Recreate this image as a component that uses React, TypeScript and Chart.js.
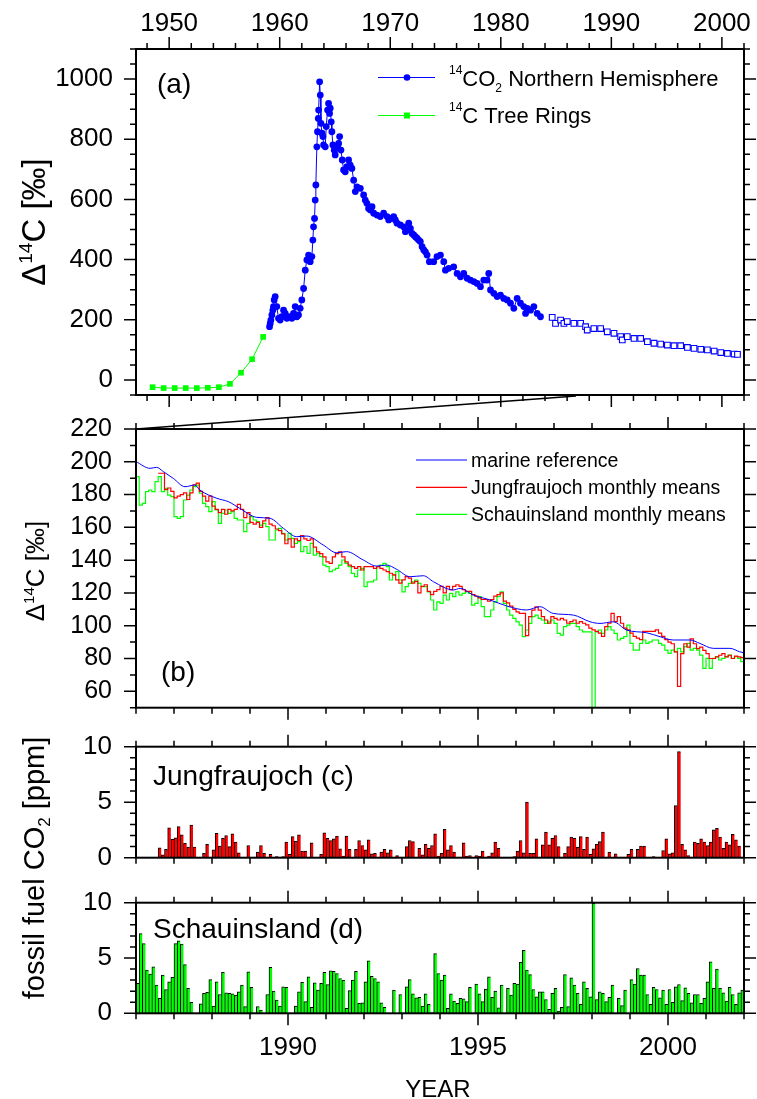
import React, { useEffect, useRef } from 'react';
import { Chart, registerables } from 'chart.js';

Chart.register(...registerables);

const FONT = "'Liberation Sans', Arial, Helvetica, sans-serif";
const BLUE = '#0000ff';
const RED = '#ff0000';
const GREEN = '#00ff00';

// ---------------- Panel (a) ----------------
const A_X_MIN = 1947;
const A_X_MAX = 2002;
const A_Y_MIN = -50;
const A_Y_MAX = 1100;
const A_X_LABELS = [1950, 1960, 1970, 1980, 1990, 2000];
const A_Y_LABELS = [0, 200, 400, 600, 800, 1000];

const TREE_YEARS = [1948.5, 1949.5, 1950.5, 1951.5, 1952.5, 1953.5, 1954.5, 1955.5, 1956.5, 1957.5, 1958.5];
const TREE_D14C = [-24, -27, -27, -27, -27, -26, -24, -13, 24, 69, 143];

const NH_YEARS = [
  1959.08, 1959.14, 1959.2, 1959.29, 1959.38, 1959.44, 1959.5, 1959.59, 1959.74, 1959.89,
  1960.04, 1960.19, 1960.35, 1960.5, 1960.65, 1960.89, 1961.1, 1961.25, 1961.4, 1961.55,
  1961.7, 1961.85, 1962.0, 1962.16, 1962.31, 1962.46, 1962.61, 1962.76, 1962.91, 1963.0,
  1963.06, 1963.15, 1963.21, 1963.27, 1963.36, 1963.42, 1963.49, 1963.52, 1963.61, 1963.67,
  1963.73, 1963.82, 1963.91, 1963.97, 1964.12, 1964.21, 1964.33, 1964.42, 1964.51, 1964.57,
  1964.66, 1964.72, 1964.81, 1964.93, 1965.02, 1965.18, 1965.33, 1965.42, 1965.54, 1965.66,
  1965.78, 1965.93, 1966.08, 1966.23, 1966.38, 1966.53, 1966.69, 1966.84, 1966.99, 1967.29,
  1967.59, 1967.74, 1967.89, 1968.04, 1968.2, 1968.35, 1968.5, 1968.8, 1969.1, 1969.4,
  1969.71, 1969.86, 1970.01, 1970.31, 1970.46, 1970.61, 1970.91, 1971.21, 1971.37, 1971.52,
  1971.67, 1971.82, 1971.97, 1972.12, 1972.27, 1972.42, 1972.57, 1972.72, 1972.88, 1973.03,
  1973.18, 1973.33, 1973.54, 1973.93, 1974.23, 1974.54, 1974.84, 1974.99, 1975.29, 1975.74,
  1976.05, 1976.35, 1976.65, 1976.95, 1977.25, 1977.56, 1977.86, 1978.16, 1978.46, 1978.76,
  1978.91, 1979.07, 1979.37, 1979.67, 1979.97, 1980.27, 1980.58, 1980.88, 1981.18, 1981.48,
  1981.78, 1982.08, 1982.24, 1982.39, 1982.69, 1982.99, 1983.29, 1983.59,
];
const NH_D14C = [
  177, 188, 199, 216, 232, 244, 266, 277, 244, 205,
  199, 210, 232, 221, 205, 210, 205, 221, 244, 210,
  216, 238, 266, 304, 365, 399, 415, 393, 410, 465,
  509, 537, 598, 648, 775, 825, 869, 897, 991, 947,
  853, 820, 809, 781, 775, 842, 897, 919, 886, 903,
  858, 825, 781, 764, 748, 770, 786, 809, 764, 731,
  698, 692, 709, 731, 714, 703, 664, 626, 642, 637,
  615, 598, 587, 570, 565, 576, 554, 548, 543, 554,
  543, 532, 537, 543, 532, 521, 515, 509, 493, 498,
  521, 504, 487, 482, 476, 471, 465, 460, 443, 432,
  426, 415, 393, 393, 410, 415, 393, 365, 371, 376,
  354, 343, 354, 338, 332, 327, 321, 310, 332, 332,
  354, 299, 288, 277, 282, 271, 266, 255, 238, 271,
  255, 244, 221, 238, 232, 244, 221, 210,
];

const NH_OPEN_YEARS = [
  1984.65, 1984.95, 1985.41, 1985.71, 1986.01, 1986.61, 1987.22, 1987.67, 1987.82, 1988.42,
  1989.03, 1989.63, 1990.24, 1990.84, 1990.99, 1991.44, 1992.05, 1992.65, 1993.26, 1993.86,
  1994.46, 1995.07, 1995.67, 1996.27, 1996.88, 1997.48, 1998.09, 1998.69, 1999.3, 1999.9,
  2000.5, 2001.11, 2001.41,
];
const NH_OPEN_D14C = [
  208, 188, 199, 188, 194, 188, 188, 177, 166, 171,
  171, 160, 155, 144, 133, 144, 138, 138, 127, 122,
  119, 116, 114, 114, 108, 105, 102, 100, 96, 91,
  88, 86, 85,
];

const ZOOM_YEAR = 1986.8;

// ---------------- Panels (b)-(d) ----------------
const B_X_MIN = 1986;
const B_X_MAX = 2002;
const B_Y_MIN = 50;
const B_Y_MAX = 220;
const B_Y_LABELS = [60, 80, 100, 120, 140, 160, 180, 200, 220];
const YEAR_LABELS = [1990, 1995, 2000];
const FF_Y_LABELS = [0, 5, 10];

const MARINE_YEARS = [
  1986.0, 1986.37, 1986.54, 1986.72, 1986.98, 1987.29, 1987.55, 1987.68, 1988.13, 1988.43,
  1988.73, 1989.18, 1989.53, 1989.88, 1990.23, 1990.49, 1990.93, 1991.28, 1991.54, 1991.98,
  1992.33, 1992.6, 1992.86, 1993.21, 1993.56, 1993.83, 1994.35, 1994.53, 1994.88, 1995.32,
  1995.76, 1996.28, 1996.63, 1996.98, 1997.51, 1997.95, 1998.21, 1998.56, 1998.91, 1999.44,
  1999.79, 2000.14, 2000.58, 2000.84, 2001.19, 2001.63, 2001.89, 2002.0,
];
const MARINE_D14C = [
  200.1, 196.0, 196.6, 194.0, 189.9, 184.8, 185.8, 182.8, 177.7, 175.7,
  171.6, 166.1, 165.5, 159.4, 154.3, 154.7, 149.2, 144.5, 145.2, 140.1,
  136.4, 137.0, 134.4, 129.9, 130.5, 126.8, 121.8, 122.8, 118.7, 115.7,
  112.0, 109.6, 111.6, 107.5, 106.5, 102.4, 101.4, 102.4, 97.4, 95.7,
  93.3, 91.3, 91.3, 89.2, 86.2, 86.2, 84.1, 83.5,
];

// monthly means, Jan 1986 .. Dec 2001
const JFJ_D14C = [
  null, null, null, null, null, null, null, 193, 193, 183, 184, 182,
  178, 179, 180, 181, 177, 181, 186, 187, 182, 179, 176, 179,
  173, 171, 169, 171, 168, 171, 170, 171, 174, 171, 166, 169,
  163, 162, 163, 160, 164, 166, 162, 161, 159, 158, 156, 150,
  153, 148, 153, 152, 155, 153, 152, 153, 148, 145, 144, 142,
  139, 138, 142, 144, 145, 142, 139, 137, 136, 135, 136, 134,
  136, 136, 136, 135, 136, 135, 134, 133, 132, 131, 128, 126,
  128, 130, 129, 126, 127, 120, 124, 125, 121, 119, 121, 122,
  124, 120, 124, 122, 124, 125, 124, 122, 121, 121, 119, 118,
  117, 116, 116, 115, 116, 118, 119, 120, 115, 114, 112, 110,
  108.5, 107.5, 107.5, 94, 105.5, 109.5, 111.5, 109.5, 105.5, 103.5, 101.5, 105.5,
  104.5, 103.5, 104.5, 103.5, 101.5, 102.5, 103.5, 101.5, 102.5, 101.5, 100.5, 98.5,
  97.5, 96.5, 95.5, 93.5, 99.5, 101.5, 107.5, 102.5, 105.5, 101.5, 98.5, 97.5,
  95.5, 93.5, 92.5, 91.5, 96.5, 96.5, 96.5, 96.5, 97.5, 95.5, 93.5, 91.5,
  90, 89, 84, 63, 83, 89, 87, 92, 89, 86, 87, 85,
  83, 80, 80, 81, 82, 83, 81, 82, 80, 81.5, 81, 80.5,
];

const SCH_D14C = [
  190.9, 173.6, 174.6, 181.8, 182.8, 181.8, 187.9, 190.9, 181.8, 183.8, 179.7, 178.7,
  166.5, 165.5, 166.5, 176.7, 179.7, 182.8, 184.8, 185.8, 180.8, 174.6, 172.6, 169.6,
  175.7, 170.6, 162.4, 168.5, 170.6, 168.5, 169.6, 165.5, 164.5, 164.5, 157.4, 162.4,
  166.5, 164.5, 163.5, 161.4, 162.4, 160.4, 152.3, 152.3, 158.4, 159.4, 156.3, 152.3,
  156.3, 153.3, 150.2, 151.3, 145.2, 148.2, 144.1, 150.2, 143.1, 144.1, 142.1, 137,
  136, 133, 134, 135, 137, 140.1, 138, 136, 131.9, 129.9, 134, 135,
  123.8, 126.8, 126.8, 127.9, 136, 137, 138, 136, 127.9, 130.9, 133, 127.9,
  120.7, 123.8, 125.8, 126.8, 127.9, 125.8, 123.8, 123.8, 120.7, 115.7, 109.6, 114.6,
  113.6, 118.7, 115.7, 119.7, 117.7, 120.7, 118.7, 119.7, 120.7, 119.7, 112.6, 113.6,
  117.7, 111.6, 105.5, 105.5, 109.6, 114.6, 117.7, 120.7, 113.6, 109.6, 106.5, 104.5,
  102.4, 100.4, 93.3, 97.4, 101.4, 105.5, 106.5, 104.5, 103.5, 101.4, 102.4, 103.5,
  101.4, 95.3, 94.3, 99.4, 100.4, 101.4, 101.4, 99.4, 97.4, 96.3, 96.3, 96.3,
  50, 96.3, 97.4, 95.3, 97.4, 99.4, 97.4, 95.3, 91.3, 92.3, 93.3, 100.4,
  89.2, 85.1, 85.1, 89.2, 91.3, 89.2, 90.2, 91.3, 91.3, 89.2, 88.2, 85.1,
  83.1, 85.1, 84.1, 86.2, 84.1, 87.2, 89.2, 85.1, 86.2, 85.1, 82.1, 74,
  80.1, 74, 80.1, 81.1, 79.1, 80.1, 81.1, 82.1, 80.1, 81.1, 80.1, 78.1,
];

// fossil fuel CO2 [ppm], monthly, Jan 1986 .. Dec 2001
const JFJ_FF = [
  null, null, null, null, null, null, null, 0.9, 0.25, 0.75, 2.7, 1.65,
  1.8, 2.8, 2.05, 1.3, 0.95, 2.95, 0.95, null, null, 0.4, 1.2, null,
  0.7, 2.2, 1.05, 1.75, 2.0, 1.0, 2.15, 1.4, 0.45, null, null, 1.1,
  null, null, 0.5, 1.1, 0.4, null, 0.3, null, 0.1, null, 0.1, 1.4,
  0.3, 1.9, 1.5, 2.05, 0.6, 0.6, null, 1.35, null, null, 0.3, 2.25,
  1.75, 1.55, 1.7, 1.95, 0.8, 0.15, 1.95, 0.75, null, 0.75, 1.55, 1.1,
  0.7, 1.6, 0.35, 0.4, null, 0.5, 0.75, 0.45, 0.7, null, 0.2, null,
  null, 1.0, 1.55, 1.45, null, 0.85, 0.25, 1.2, 0.85, 1.1, 2.15, 0.15,
  0.4, 2.55, 0.7, 1.1, 0.5, null, null, 1.35, 0.15, 0.2, null, 0.2,
  0.15, 0.6, null, 0.15, 0.45, 1.4, 0.85, null, null, null, null, 0.1,
  0.6, 1.55, 0.45, 5.0, 0.4, 0.4, 1.7, null, 1.15, 2.3, 1.15, 1.75,
  2.0, 1.0, null, 0.4, 1.0, 1.85, 1.75, 0.95, 1.9, 0.75, 1.85, 0.3,
  0.8, 1.2, 1.45, 2.3, null, 0.5, null, 0.35, null, null, null, 0.3,
  0.75, null, 0.75, 1.05, 1.05, null, null, 0.1, null, null, 0.65, 1.7,
  0.35, 0.45, 4.7, 9.55, 1.2, 0.7, 0.2, null, 1.4, 1.3, 1.7, 1.4,
  1.1, 1.4, 2.5, 2.65, 1.85, 0.85, 1.4, 1.15, 2.1, 1.6, 1.05, null,
];

const SCH_FF = [
  2.7, 7.2, 6.3, 3.9, 3.55, 4.2, 2.55, 1.35, 3.45, 2.15, 2.85, 3.25,
  6.3, 6.55, 6.25, 4.4, 2.25, 1.0, null, null, 0.85, 1.8, 1.9, 3.05,
  0.65, 2.85, 1.7, 3.7, 1.85, 1.8, 1.75, 1.65, 1.95, 2.55, 0.6, 3.75,
  2.35, null, 0.6, 0.3, null, 1.7, 4.15, 2.0, 1.2, 0.65, 2.4, 2.35,
  null, null, 0.65, 1.95, 2.8, 1.05, 3.3, 0.55, 2.75, 2.1, 2.7, 3.7,
  2.6, 3.85, 3.8, 3.6, 3.15, 3.0, 0.45, 2.05, 3.0, 3.8, 0.9, 0.95,
  2.85, 4.75, 3.35, 3.15, 2.85, 0.95, 0.55, null, null, 2.1, null, 1.7,
  null, 2.4, 3.05, 1.75, 1.4, 1.45, 0.65, 1.75, 0.8, 0.05, 5.4, 3.6,
  3.0, 3.45, 0.45, 1.75, 1.1, 0.9, 1.35, 1.3, 1.05, 2.35, null, 2.65,
  1.75, 1.05, 2.2, 3.3, 1.45, 2.0, 0.5, 2.55, null, 2.25, 1.65, 2.7,
  2.65, 4.6, 5.7, 3.9, 3.5, 2.15, 1.5, 1.95, 1.95, 1.25, 0.35, 1.8,
  2.25, 0.2, 0.55, 3.5, 0.6, 3.2, 2.55, 1.8, 0.8, 2.85, 2.25, 1.5,
  9.95, 1.25, 1.95, 1.8, 1.05, 1.45, 2.55, null, 1.35, 0.7, 2.1, null,
  3.05, 2.65, 4.05, 3.45, 3.45, 1.7, 0.8, 2.35, 2.15, 1.4, 2.1, 0.8,
  2.15, 1.0, 2.4, 2.6, 1.15, 2.3, 1.8, 0.95, 1.7, 1.7, 0.9, 1.35,
  2.85, 4.65, 2.25, 4.0, 2.25, 1.85, 1.1, 2.35, 1.7, 0.8, 1.85, 2.1,
];

// ---------------- helpers ----------------
type Part = { t: string; s: number; dy?: number };

function richWidth(ctx: CanvasRenderingContext2D, parts: Part[]) {
  let w = 0;
  for (const p of parts) {
    ctx.font = `${p.s}px ${FONT}`;
    w += ctx.measureText(p.t).width;
  }
  return w;
}

function drawRich(ctx: CanvasRenderingContext2D, parts: Part[], x: number, y: number, align: 'left' | 'center' = 'left', rotate = false) {
  ctx.save();
  ctx.translate(x, y);
  if (rotate) ctx.rotate(-Math.PI / 2);
  ctx.fillStyle = '#000';
  ctx.textBaseline = 'alphabetic';
  ctx.textAlign = 'left';
  let cx = align === 'center' ? -richWidth(ctx, parts) / 2 : 0;
  for (const p of parts) {
    ctx.font = `${p.s}px ${FONT}`;
    ctx.fillText(p.t, cx, p.dy || 0);
    cx += ctx.measureText(p.t).width;
  }
  ctx.restore();
}

function stepRange(min: number, max: number, step: number) {
  const out: number[] = [];
  const start = Math.ceil(min / step - 1e-9) * step;
  for (let v = start; v <= max + 1e-9; v += step) out.push(Math.round(v * 1e6) / 1e6);
  return out;
}

function drawFrameTicks(chart: any, xMaj: number[], xStep: number, yMaj: number[], yStep: number) {
  const { ctx, chartArea: a } = chart;
  const xs = chart.scales.x;
  const ys = chart.scales.y;
  const MAJ = 12;
  const MIN = 6;
  ctx.save();
  ctx.strokeStyle = '#000';
  ctx.lineWidth = 1.5;
  ctx.beginPath();
  const vx = (v: number, len: number) => {
    const p = xs.getPixelForValue(v);
    ctx.moveTo(p, a.top);
    ctx.lineTo(p, a.top - len);
    ctx.moveTo(p, a.bottom);
    ctx.lineTo(p, a.bottom + len);
  };
  const vy = (v: number, len: number) => {
    const p = ys.getPixelForValue(v);
    ctx.moveTo(a.left, p);
    ctx.lineTo(a.left - len, p);
    ctx.moveTo(a.right, p);
    ctx.lineTo(a.right + len, p);
  };
  stepRange(xs.min, xs.max, xStep).forEach((v) => vx(v, MIN));
  xMaj.forEach((v) => vx(v, MAJ));
  stepRange(ys.min, ys.max, yStep).forEach((v) => vy(v, MIN));
  yMaj.forEach((v) => vy(v, MAJ));
  ctx.stroke();
  ctx.lineWidth = 2;
  ctx.strokeRect(a.left, a.top, a.right - a.left, a.bottom - a.top);
  ctx.restore();
}

function fixSize(pos: string, size: number) {
  return (s: any) => {
    if (pos === 'top' || pos === 'bottom') s.height = size;
    else s.width = size;
    s.paddingTop = 0;
    s.paddingBottom = 0;
    s.paddingLeft = 0;
    s.paddingRight = 0;
  };
}

function hiddenAxis(pos: string, min: number, max: number, size: number) {
  return {
    type: 'linear',
    position: pos,
    min,
    max,
    offset: false,
    grid: { display: false, drawTicks: false },
    border: { display: false },
    ticks: { display: false, padding: 0 },
    afterFit: fixSize(pos, size),
  };
}

function labelAxis(pos: string, min: number, max: number, size: number, labels: number[], fontSize: number, padding: number) {
  return {
    type: 'linear',
    position: pos,
    min,
    max,
    offset: false,
    grid: { display: false, drawTicks: false },
    border: { display: false },
    ticks: {
      display: true,
      font: { size: fontSize, family: FONT },
      color: '#000',
      padding,
      autoSkip: false,
      maxRotation: 0,
      minRotation: 0,
      callback: (v: any) => String(v),
    },
    afterBuildTicks: (s: any) => {
      s.ticks = labels.map((v) => ({ value: v }));
    },
    afterFit: fixSize(pos, size),
  };
}

function monthSteps(vals: (number | null)[]) {
  const pts: { x: number; y: number }[] = [];
  let last = -1;
  vals.forEach((v, m) => {
    if (v !== null) {
      pts.push({ x: B_X_MIN + m / 12, y: v });
      last = m;
    }
  });
  if (last >= 0) pts.push({ x: B_X_MIN + (last + 1) / 12, y: vals[last] as number });
  return pts;
}

function monthBars(vals: (number | null)[]) {
  return vals.map((v, m) => ({ x: B_X_MIN + (m + 0.5) / 12, y: v }));
}

const baseOptions = (padTop: number) => ({
  responsive: false,
  animation: false,
  events: [],
  layout: { padding: { top: padTop, left: 0, right: 0, bottom: 0 }, autoPadding: false },
  plugins: { legend: { display: false }, tooltip: { enabled: false }, title: { display: false } },
});

// ---------------- chart configs ----------------
function configA(): any {
  return {
    type: 'line',
    data: {
      datasets: [
        {
          data: NH_YEARS.map((x, i) => ({ x, y: NH_D14C[i] })),
          borderColor: BLUE,
          backgroundColor: BLUE,
          borderWidth: 1,
          pointRadius: 3.4,
          pointBorderWidth: 0,
          pointBackgroundColor: BLUE,
          pointHoverRadius: 0,
        },
        {
          data: NH_OPEN_YEARS.map((x, i) => ({ x, y: NH_OPEN_D14C[i] })),
          borderColor: BLUE,
          borderWidth: 0.8,
          pointStyle: 'rect',
          pointRadius: 4,
          pointBorderWidth: 1.1,
          pointBorderColor: BLUE,
          pointBackgroundColor: '#ffffff',
          pointHoverRadius: 0,
        },
        {
          data: TREE_YEARS.map((x, i) => ({ x, y: TREE_D14C[i] })),
          borderColor: GREEN,
          backgroundColor: GREEN,
          borderWidth: 1,
          pointStyle: 'rect',
          pointRadius: 4,
          pointBorderWidth: 0,
          pointBackgroundColor: GREEN,
          pointHoverRadius: 0,
        },
      ],
    },
    options: {
      ...baseOptions(0),
      scales: {
        x: hiddenAxis('bottom', A_X_MIN, A_X_MAX, 17),
        x2: labelAxis('top', A_X_MIN, A_X_MAX, 49, A_X_LABELS, 26, 10),
        y: labelAxis('left', A_Y_MIN, A_Y_MAX, 136, A_Y_LABELS, 26, 23),
        y2: hiddenAxis('right', A_Y_MIN, A_Y_MAX, 13),
      },
    },
    plugins: [
      {
        id: 'panelA',
        afterDraw(chart: any) {
          drawFrameTicks(chart, A_X_LABELS, 2, A_Y_LABELS, 50);
          const ctx = chart.ctx as CanvasRenderingContext2D;
          drawRich(ctx, [{ t: 'Δ', s: 33 }, { t: '14', s: 19, dy: -13 }, { t: 'C [‰]', s: 33 }], 45, 222, 'center', true);
          drawRich(ctx, [{ t: '(a)', s: 28 }], 157, 92.5);
          ctx.save();
          ctx.strokeStyle = BLUE;
          ctx.lineWidth = 1;
          ctx.beginPath();
          ctx.moveTo(378, 77.5);
          ctx.lineTo(435, 77.5);
          ctx.stroke();
          ctx.fillStyle = BLUE;
          ctx.beginPath();
          ctx.arc(407, 77.5, 3.3, 0, Math.PI * 2);
          ctx.fill();
          ctx.strokeStyle = GREEN;
          ctx.beginPath();
          ctx.moveTo(378, 115.5);
          ctx.lineTo(435, 115.5);
          ctx.stroke();
          ctx.fillStyle = GREEN;
          ctx.fillRect(404, 112.5, 6, 6);
          ctx.restore();
          drawRich(ctx, [{ t: '14', s: 12, dy: -12.5 }, { t: 'CO', s: 22 }, { t: '2', s: 12, dy: 5.5 }, { t: ' Northern Hemisphere', s: 22 }], 449, 86);
          drawRich(ctx, [{ t: '14', s: 12, dy: -12.5 }, { t: 'C Tree Rings', s: 22 }], 449, 123.3);
        },
      },
    ],
  };
}

function configB(): any {
  return {
    type: 'line',
    data: {
      datasets: [
        {
          data: MARINE_YEARS.map((x, i) => ({ x, y: MARINE_D14C[i] })),
          borderColor: BLUE,
          borderWidth: 1,
          pointRadius: 0,
          tension: 0.4,
          cubicInterpolationMode: 'monotone',
        },
        {
          data: monthSteps(JFJ_D14C),
          borderColor: RED,
          borderWidth: 1.2,
          pointRadius: 0,
          stepped: 'before',
        },
        {
          data: monthSteps(SCH_D14C),
          borderColor: GREEN,
          borderWidth: 1.2,
          pointRadius: 0,
          stepped: 'before',
        },
      ],
    },
    options: {
      ...baseOptions(0),
      scales: {
        x: hiddenAxis('bottom', B_X_MIN, B_X_MAX, 17.3),
        x2: hiddenAxis('top', B_X_MIN, B_X_MAX, 44),
        y: labelAxis('left', B_Y_MIN, B_Y_MAX, 136, B_Y_LABELS, 25, 24),
        y2: hiddenAxis('right', B_Y_MIN, B_Y_MAX, 13),
      },
    },
    plugins: [
      {
        id: 'panelB',
        afterDraw(chart: any) {
          drawFrameTicks(chart, YEAR_LABELS, 1, B_Y_LABELS, 10);
          const ctx = chart.ctx as CanvasRenderingContext2D;
          const a = chart.chartArea;
          const xA = a.left + ((ZOOM_YEAR - A_X_MIN) / (A_X_MAX - A_X_MIN)) * (a.right - a.left);
          ctx.save();
          ctx.strokeStyle = '#000';
          ctx.lineWidth = 1.5;
          ctx.beginPath();
          ctx.moveTo(a.left, a.top);
          ctx.lineTo(xA, a.top - 33);
          ctx.stroke();
          const rows = [
            { c: BLUE, y: 75, t: 'marine reference' },
            { c: RED, y: 102.3, t: 'Jungfraujoch monthly means' },
            { c: GREEN, y: 129.3, t: 'Schauinsland monthly means' },
          ];
          ctx.lineWidth = 1.2;
          for (const r of rows) {
            ctx.strokeStyle = r.c;
            ctx.beginPath();
            ctx.moveTo(416, r.y);
            ctx.lineTo(467, r.y);
            ctx.stroke();
          }
          ctx.restore();
          for (const r of rows) drawRich(ctx, [{ t: r.t, s: 19.5 }], 471, r.y + 6.5);
          drawRich(ctx, [{ t: '(b)', s: 28 }], 161, 295.8);
          drawRich(ctx, [{ t: 'Δ', s: 26 }, { t: '14', s: 15, dy: -10 }, { t: 'C [‰]', s: 26 }], 44, 186, 'center', true);
        },
      },
    ],
  };
}

function configFF(vals: (number | null)[], color: string, padTop: number, topH: number, bottomAxis: any, extra: (chart: any) => void): any {
  return {
    type: 'bar',
    data: {
      datasets: [
        {
          data: monthBars(vals),
          backgroundColor: color,
          borderColor: '#000',
          borderWidth: { left: 1, top: 1, right: 0, bottom: 0 },
          borderSkipped: false,
          barPercentage: 1,
          categoryPercentage: 1,
        },
      ],
    },
    options: {
      ...baseOptions(padTop),
      scales: {
        x: bottomAxis,
        x2: hiddenAxis('top', B_X_MIN, B_X_MAX, topH),
        y: labelAxis('left', 0, 10, 136, FF_Y_LABELS, 26, 24),
        y2: hiddenAxis('right', 0, 10, 13),
      },
    },
    plugins: [
      {
        id: 'panelFF',
        afterDraw(chart: any) {
          drawFrameTicks(chart, YEAR_LABELS, 1, FF_Y_LABELS, 1);
          extra(chart);
        },
      },
    ],
  };
}

export default function App() {
  const refA = useRef<HTMLCanvasElement>(null);
  const refB = useRef<HTMLCanvasElement>(null);
  const refC = useRef<HTMLCanvasElement>(null);
  const refD = useRef<HTMLCanvasElement>(null);

  useEffect(() => {
    Chart.defaults.font.family = FONT;
    Chart.defaults.color = '#000';
    const charts: Chart[] = [];
    charts.push(new Chart(refA.current as HTMLCanvasElement, configA()));
    charts.push(new Chart(refB.current as HTMLCanvasElement, configB()));
    charts.push(
      new Chart(
        refC.current as HTMLCanvasElement,
        configFF(JFJ_FF, RED, 0, 21.7, hiddenAxis('bottom', B_X_MIN, B_X_MAX, 12.3), (chart: any) => {
          drawRich(chart.ctx, [{ t: 'Jungfraujoch (c)', s: 28 }], 153, 60);
        })
      )
    );
    charts.push(
      new Chart(
        refD.current as HTMLCanvasElement,
        configFF(SCH_FF, GREEN, 163.7, 14, labelAxis('bottom', B_X_MIN, B_X_MAX, 85.7, YEAR_LABELS, 26, 19), (chart: any) => {
          const ctx = chart.ctx as CanvasRenderingContext2D;
          drawRich(ctx, [{ t: 'Schauinsland (d)', s: 28 }], 153, 213.3);
          drawRich(ctx, [{ t: 'YEAR', s: 24 }], 438, 371.5, 'center');
          drawRich(ctx, [{ t: 'fossil fuel CO', s: 29 }, { t: '2', s: 17, dy: 6 }, { t: ' [ppm]', s: 29 }], 44, 143, 'center', true);
        })
      )
    );
    return () => charts.forEach((c) => c.destroy());
  }, []);

  const cs = (top: number): React.CSSProperties => ({ position: 'absolute', left: 0, top });

  return (
    <div style={{ position: 'absolute', left: 0, top: 0, width: 757, height: 1099, background: '#fff', overflow: 'hidden' }}>
      <canvas ref={refA} width={757} height={412} style={cs(0)} />
      <canvas ref={refB} width={757} height={340} style={cs(385)} />
      <canvas ref={refC} width={757} height={145} style={cs(725)} />
      <canvas ref={refD} width={757} height={374} style={cs(725)} />
    </div>
  );
}
